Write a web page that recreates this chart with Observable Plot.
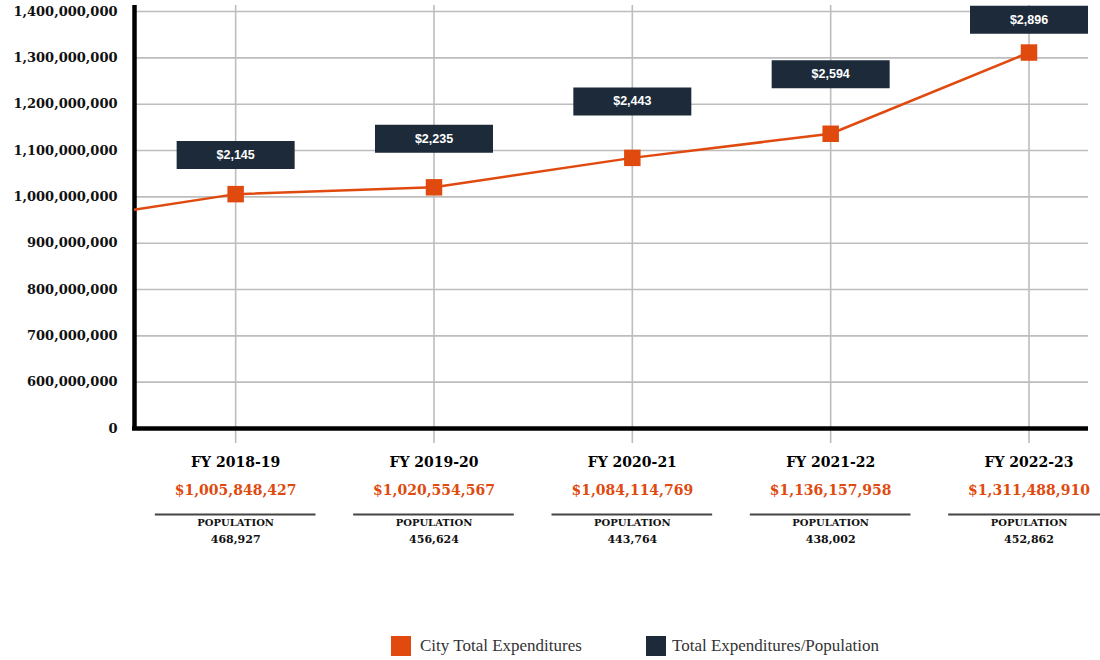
<!DOCTYPE html>
<html>
<head>
<meta charset="utf-8">
<script src="https://cdn.jsdelivr.net/npm/d3@7"></script>
<script src="https://cdn.jsdelivr.net/npm/@observablehq/plot@0.6"></script>
<style>
  body { margin: 0; background: #fff; }
  #chart svg { display: block; }
  g[aria-label="fy-label"] text { letter-spacing: 1.5px; }
  g[aria-label="amount-label"] text { letter-spacing: 1.2px; }
  g[aria-label="pop-title"] text { letter-spacing: 3.4px; }
  g[aria-label="pop-value"] text { letter-spacing: 2.5px; }
  g[aria-label="y-axis"] text { letter-spacing: 1.2px; }
  #legend { position: relative; height: 40px; font-family: "Liberation Serif", "Times New Roman", serif; font-size: 17px; color: #333; }
  .item { position: absolute; top: 16px; display: flex; align-items: center; }
  .sw { width: 20px; height: 20px; margin-right: 9px; }
</style>
</head>
<body>
<div id="chart"></div>
<div id="legend">
  <div class="item" style="left:391px"><div class="sw" style="background:#e04a0f"></div><span>City Total Expenditures</span></div>
  <div class="item" style="left:646px"><div class="sw" style="background:#1c2a3a;margin-right:6px"></div><span>Total Expenditures/Population</span></div>
</div>
<script>
const categories = ["FY 2018-19", "FY 2019-20", "FY 2020-21", "FY 2021-22", "FY 2022-23"];
const expenditures = [1005848427, 1020554567, 1084114769, 1136157958, 1311488910];
const perCapita = [2145, 2235, 2443, 2594, 2896];
const population = [468927, 456624, 443764, 438002, 452862];
// previous year value, only its segment entering from the left edge is visible
const priorYearValue = 940000000;

const yTicks = [500e6, 600e6, 700e6, 800e6, 900e6, 1000e6, 1100e6, 1200e6, 1300e6, 1400e6];
const yTickLabels = ["0", "600,000,000", "700,000,000", "800,000,000", "900,000,000",
  "1,000,000,000", "1,100,000,000", "1,200,000,000", "1,300,000,000", "1,400,000,000"];

// hidden secondary axis for per-capita values
const perCapitaDomain = [627, 2942];
const primaryRange = [500e6, 1400e6];
const pcToPrimary = d3.scaleLinear().domain(perCapitaDomain).range(primaryRange);

const ORANGE = "#e04a0f";
const NAVY = "#1c2a3a";

const data = categories.map((c, i) => ({
  i, category: c, value: expenditures[i], pc: perCapita[i], pop: population[i]
}));
const lineData = [{i: -1, value: priorYearValue}, ...data];

const boxSymbol = { draw(ctx) { ctx.rect(-59, -14, 118, 28); } };
const serif = "DejaVu Serif, serif";

const chart = Plot.plot({
  width: 1100,
  height: 620,
  marginLeft: 134,
  marginRight: 12,
  marginTop: 5,
  marginBottom: 192,
  x: { type: "linear", domain: [-0.51, 4.30], axis: null },
  y: { domain: [500e6, 1413e6], axis: null, label: null },
  marks: [
    Plot.ruleY(yTicks.slice(1), { stroke: "#bdbdbd", strokeWidth: 1.6 }),
    Plot.ruleX(data, { x: "i", stroke: "#bdbdbd", strokeWidth: 1.6, insetBottom: -15 }),
    Plot.ruleY([500e6], { stroke: "#000", strokeWidth: 4.5, insetLeft: -2 }),
    Plot.ruleX([-0.51], { stroke: "#000", strokeWidth: 4.5, insetBottom: -2 }),
    Plot.axisY({
      ariaLabel: "y-axis",
      label: null,
      ticks: yTicks,
      tickFormat: d => yTickLabels[yTicks.indexOf(d)],
      tickSize: 0, tickPadding: 17,
      fontSize: 13, fontWeight: "bold", fontFamily: serif, fill: "#111"
    }),
    Plot.line(lineData, { x: "i", y: "value", stroke: ORANGE, strokeWidth: 2.5, clip: true }),
    Plot.dot(data, { x: "i", y: "value", symbol: "square", r: 9.3, fill: ORANGE }),
    Plot.dot(data, { x: "i", y: d => pcToPrimary(d.pc), symbol: boxSymbol, fill: NAVY }),
    Plot.text(data, { x: "i", y: d => pcToPrimary(d.pc), text: d => "$" + d3.format(",")(d.pc),
      fill: "#fff", fontSize: 12.5, fontWeight: "bold", fontFamily: "Liberation Sans Narrow, Arial Narrow, sans-serif" }),
    Plot.text(data, { ariaLabel: "fy-label", x: "i", frameAnchor: "bottom", dy: 38, text: "category",
      fontSize: 14, fontWeight: "bold", fontFamily: serif, fill: "#000" }),
    Plot.text(data, { ariaLabel: "amount-label", x: "i", frameAnchor: "bottom", dy: 66, text: d => "$" + d3.format(",")(d.value),
      fontSize: 14, fontWeight: "bold", fontFamily: serif, fill: ORANGE }),
    Plot.ruleY(data, { x1: d => d.i - 0.405, x2: d => d.i + 0.405, y: () => 500e6, dy: 86, stroke: "#444", strokeWidth: 2 }),
    Plot.text(data, { ariaLabel: "pop-title", x: "i", frameAnchor: "bottom", dy: 97, text: () => "POPULATION",
      fontSize: 10, fontWeight: "bold", fontFamily: serif, fill: "#111" }),
    Plot.text(data, { ariaLabel: "pop-value", x: "i", frameAnchor: "bottom", dy: 114, text: d => d3.format(",")(d.pop),
      fontSize: 11, fontWeight: "bold", fontFamily: serif, fill: "#111" })
  ]
});
document.getElementById("chart").appendChild(chart);
</script>
</body>
</html>
